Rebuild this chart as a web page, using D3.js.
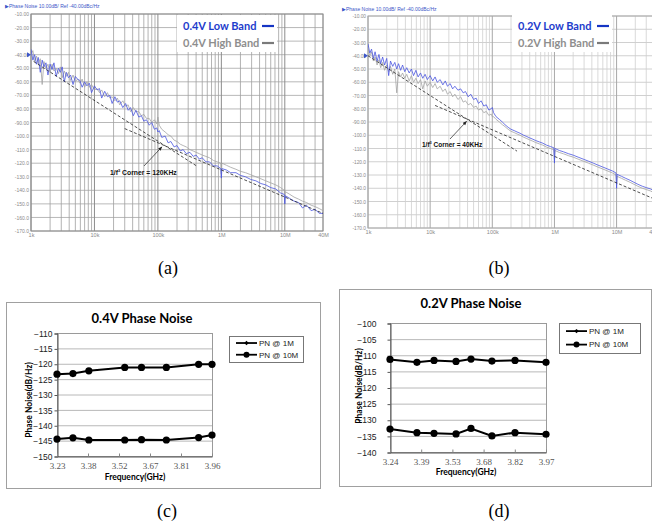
<!DOCTYPE html>
<html>
<head>
<meta charset="utf-8">
<script src="https://cdn.jsdelivr.net/npm/d3@7"></script>
<style>
  body { margin: 0; background: #fff; }
  svg { display: block; }
</style>
</head>
<body>
<div id="chart"></div>
<script>
// ---------- DATA ----------
// offset frequency (kHz) shared by the four analyzer traces
const freqKHz = [
  1, 1.07, 1.14, 1.22, 1.3, 1.4, 1.5, 1.6, 1.72, 1.85,
  2, 2.15, 2.3, 2.5, 2.7, 2.9, 3.1, 3.35, 3.6, 3.9,
  4.2, 4.6, 5, 5.4, 5.9, 6.4, 7, 7.6, 8.3, 9,
  10, 11, 12, 13, 14.5, 16, 17.5, 19, 21, 23,
  25, 28, 31, 34, 37, 41, 45, 50, 55, 60,
  66, 73, 80, 88, 96, 100, 105, 115, 130, 145,
  160, 180, 200, 225, 250, 280, 320, 360, 400, 450,
  500, 570, 650, 750, 860, 980, 1000, 1020, 1200, 1400,
  1700, 2000, 2400, 2900, 3500, 4200, 5000, 6000, 7200, 8600,
  9800, 10000, 10200, 12000, 14000, 16500, 19000, 22000, 26000, 30000,
  35000, 40000
];
// (a) 0.4V, dBc/Hz
const lowBandA = [
  -36, -44, -40, -47, -42, -53, -44, -49, -46, -55,
  -47, -51, -46, -56, -50, -53, -49, -60, -53, -57,
  -55, -62, -56, -58, -59, -64, -60, -63, -61, -68,
  -63, -66, -65, -72, -67, -71, -70, -76, -71, -75,
  -74, -79, -76, -81, -79, -85, -81, -86, -85, -89,
  -88, -92, -90, -95, -94, -97, -96, -101, -100, -105,
  -104, -108, -107, -111, -110, -113, -112, -115, -114, -117,
  -116, -119, -119, -122, -122, -124, -131, -124, -125, -127,
  -127, -129, -130, -132, -133, -135, -136, -138, -139, -142,
  -143, -150, -144, -146, -148, -149, -153, -151, -155, -154,
  -157, -157
];
const highBandA = [
  -40, -37, -45, -41, -47, -43, -62, -45, -50, -47,
  -53, -47, -52, -50, -54, -49, -57, -52, -56, -53,
  -59, -55, -60, -58, -61, -58, -64, -60, -64, -62,
  -66, -65, -68, -66, -71, -68, -72, -71, -74, -72,
  -77, -74, -78, -77, -82, -79, -82, -82, -85, -84,
  -87, -87, -90, -88, -91, -86, -92, -95, -97, -99,
  -100, -103, -104, -106, -107, -108, -110, -111, -112, -113,
  -114, -115, -116, -118, -119, -120, -128, -120, -121.5, -123,
  -124.5, -126, -127, -128.5, -130, -131.5, -133, -134.5, -136, -138,
  -140, -146, -141, -143, -145, -146.5, -148, -149, -151, -152,
  -153.5, -155
];
// (b) 0.2V, dBc/Hz
const lowBandB = [
  -31, -38, -35, -42, -37, -44, -39, -46, -41, -47,
  -42, -55, -44, -48, -45, -50, -46, -51, -47, -52,
  -49, -53, -50, -55, -51, -56, -53, -57, -54, -58,
  -55, -59, -56, -60, -58, -62, -59, -63, -61, -65,
  -63, -66, -65, -68, -67, -71, -69, -73, -72, -76,
  -74, -78, -77, -81, -80, -79, -83, -86, -88, -90,
  -92, -94, -95.5, -96.5, -97.5, -98.5, -100, -101, -102, -103,
  -104, -105, -106, -107.5, -108.5, -109.5, -121, -110, -111.5, -112.5,
  -114, -115, -116.5, -118, -119.5, -121, -122.5, -124, -125.5, -127,
  -128.5, -140, -129.5, -131, -132.5, -134, -135.5, -137, -138.5, -139.5,
  -140.5, -142
];
const highBandB = [
  -35, -40, -37, -44, -41, -47, -43, -49, -45, -51,
  -47, -52, -48, -54, -50, -68, -52, -56, -53, -57,
  -54, -59, -55, -60, -57, -61, -58, -65, -59, -63,
  -60, -64, -61, -65, -63, -67, -65, -69, -67, -71,
  -69, -73, -71, -75, -74, -77, -76, -79, -78, -81,
  -80, -83, -82, -85, -84, -86, -86, -88, -90, -92,
  -93.5, -95.5, -97, -98, -99, -100, -101.5, -102.5, -103.5, -104.5,
  -105.5, -106.5, -107.5, -109, -110, -111, -118, -111.5, -113, -114,
  -115.5, -116.5, -118, -119.5, -121, -122.5, -124, -125.5, -127, -128.5,
  -130, -137, -131, -132.5, -134, -135.5, -137, -138.5, -140, -141,
  -142, -143.5
];
// asymptotes [kHz, dB] and 1/f^3 corners
const flickerA = [[1.1, -45], [400, -121.8]];
const thermalA = [[30, -94.5], [40000, -157]];
const cornerA = [120, -106.5];
const flickerB = [[1, -40], [250, -112]];
const thermalB = [[12, -77.5], [40000, -148]];
const cornerB = [40, -88];

const freqTicks = [1, 10, 100, 1000, 10000, 40000];
const freqTickLabels = ["1k", "10k", "100k", "1M", "10M", "40M"];

// (c) 0.4V phase noise vs carrier
const carrierC = [3.23, 3.305, 3.38, 3.549, 3.628, 3.745, 3.897, 3.96];
const pn1MC = [-123.4, -123.2, -122.3, -121.2, -121.2, -121.2, -120.2, -120.2];
const pn10MC = [-144.5, -144.1, -144.8, -144.8, -144.7, -144.8, -144.0, -143.2];
const ticksC = [3.23, 3.376, 3.522, 3.668, 3.814, 3.96];
const tickLabelsC = ["3.23", "3.38", "3.52", "3.67", "3.81", "3.96"];

// (d) 0.2V phase noise vs carrier
const carrierD = [3.24, 3.366, 3.446, 3.549, 3.619, 3.717, 3.825, 3.97];
const pn1MD = [-111.3, -112.2, -111.6, -111.9, -111.2, -111.8, -111.6, -112.2];
const pn10MD = [-132.9, -134.0, -134.2, -134.4, -132.7, -135.0, -134.0, -134.5];
const ticksD = [3.24, 3.386, 3.532, 3.678, 3.824, 3.97];
const tickLabelsD = ["3.24", "3.39", "3.53", "3.68", "3.82", "3.97"];

const seriesNames = ["PN @ 1M", "PN @ 10M"];

// ---------- SETUP ----------
const svg = d3.select("#chart").append("svg")
    .attr("width", 652)
    .attr("height", 525)
    .style("font-family", "'Liberation Sans', Arial, sans-serif");

const BLUE_TRACE = "#4a55e0";
const GRAY_TRACE = "#a3a3a3";

function dbFormat(v) {
    return v > -100 ? v.toFixed(2) : v.toFixed(1);
}

// ---------- SPECTRUM PANELS (a), (b) ----------
function drawSpectrum(o) {
    const g = svg.append("g");
    const x = d3.scaleLog().domain([1, 40000]).range([o.left, o.right]);
    const y = d3.scaleLinear().domain([-170, -10]).range([o.bottom, o.top]);

    svg.append("clipPath").attr("id", "clip" + o.id)
        .append("rect")
        .attr("x", o.left).attr("y", o.top)
        .attr("width", o.right - o.left).attr("height", o.bottom - o.top);

    // horizontal grid
    g.selectAll("line.hg").data(y.ticks(16)).join("line")
        .attr("x1", o.left).attr("x2", o.right)
        .attr("y1", d => y(d)).attr("y2", d => y(d))
        .attr("stroke", o.hGrid).attr("stroke-width", 0.8);

    // vertical grid (1..9 per decade)
    const isDecade = d => Math.abs(Math.log10(d) - Math.round(Math.log10(d))) < 1e-9;
    g.selectAll("line.vg").data(x.ticks()).join("line")
        .attr("x1", d => x(d)).attr("x2", d => x(d))
        .attr("y1", o.top).attr("y2", o.bottom)
        .attr("stroke", d => isDecade(d) ? o.majorGrid : o.minorGrid)
        .attr("stroke-width", d => isDecade(d) ? 1 : 0.8);

    g.append("rect")
        .attr("x", o.left).attr("y", o.top)
        .attr("width", o.right - o.left).attr("height", o.bottom - o.top)
        .attr("fill", "none").attr("stroke", o.majorGrid).attr("stroke-width", 1);

    // y labels
    g.append("g")
        .attr("transform", `translate(${o.left - 2},0)`)
        .call(d3.axisLeft(y).tickValues(y.ticks(16)).tickFormat(dbFormat).tickSize(0).tickPadding(0))
        .call(a => a.select(".domain").remove())
        .call(a => a.selectAll("text").attr("fill", "#8a8a8a").style("font-size", o.tickSize + "px"));

    // x labels
    g.append("g")
        .attr("transform", `translate(0,${o.bottom + 2})`)
        .call(d3.axisBottom(x).tickValues(freqTicks)
            .tickFormat((d, i) => freqTickLabels[i]).tickSize(0).tickPadding(0))
        .call(a => a.select(".domain").remove())
        .call(a => a.selectAll("text").attr("fill", "#8a8a8a").style("font-size", "5.5px"));

    // header + reference marker
    g.append("text")
        .attr("x", o.headerX).attr("y", o.headerY)
        .attr("fill", "#3c55c8").style("font-size", "5px")
        .text("\u25B6Phase Noise 10.00dB/ Ref -40.00dBc/Hz");
    g.append("path")
        .attr("d", `M${o.left - 4},${y(-40) - 2.5}L${o.left},${y(-40)}L${o.left - 4},${y(-40) + 2.5}Z`)
        .attr("fill", "#3c55c8");

    // traces
    const line = d3.line()
        .x((d, i) => x(freqKHz[i]))
        .y(d => y(d));
    const traces = g.append("g").attr("clip-path", `url(#clip${o.id})`);
    traces.append("path").datum(o.high)
        .attr("d", line).attr("fill", "none")
        .attr("stroke", GRAY_TRACE).attr("stroke-width", 0.8);
    traces.append("path").datum(o.low)
        .attr("d", line).attr("fill", "none")
        .attr("stroke", BLUE_TRACE).attr("stroke-width", 0.8);

    // asymptotes
    const asym = d3.line().x(d => x(d[0])).y(d => y(d[1]));
    [o.flicker, o.thermal].forEach(seg => {
        traces.append("path").datum(seg)
            .attr("d", asym).attr("fill", "none")
            .attr("stroke", "#222").attr("stroke-width", 0.8)
            .attr("stroke-dasharray", "3,2");
    });

    // corner annotation
    const cx = x(o.corner[0]), cy = y(o.corner[1]);
    g.append("line")
        .attr("x1", o.arrowFrom[0]).attr("y1", o.arrowFrom[1])
        .attr("x2", cx - 1).attr("y2", cy + 2)
        .attr("stroke", "#222").attr("stroke-width", 0.7)
        .attr("marker-end", "url(#arrow)");
    const t = g.append("text")
        .attr("x", o.noteX).attr("y", o.noteY)
        .attr("fill", "#111").style("font-size", o.noteSize + "px").style("font-weight", "bold");
    t.append("tspan").text("1/f");
    t.append("tspan").attr("dy", -3).style("font-size", (o.noteSize * 0.6) + "px").text("3");
    t.append("tspan").attr("dy", 3).text(" Corner = " + o.cornerLabel);

    // legend
    const lg = g.append("g");
    lg.append("rect")
        .attr("x", o.legend[0]).attr("y", o.legend[1])
        .attr("width", o.legend[2]).attr("height", o.legend[3])
        .attr("fill", "#fff");
    const items = [
        { label: o.name + " Low Band", text: "#1d3ccc", line: "#1535c4" },
        { label: o.name + " High Band", text: "#8e8e8e", line: "#7a7a7a" }
    ];
    items.forEach((it, i) => {
        const by = o.legend[1] + 15 + i * 17;
        lg.append("text")
            .attr("x", o.legend[0] + 6).attr("y", by)
            .attr("fill", it.text)
            .style("font-family", "Lato, 'Open Sans', sans-serif")
            .style("font-weight", "bold").style("font-size", "11px")
            .text(it.label);
        lg.append("line")
            .attr("x1", o.legend[0] + 85).attr("x2", o.legend[0] + 97)
            .attr("y1", by - 4).attr("y2", by - 4)
            .attr("stroke", it.line).attr("stroke-width", 2.2);
    });
}

svg.append("defs").append("marker")
    .attr("id", "arrow")
    .attr("viewBox", "0 0 10 10")
    .attr("refX", 9).attr("refY", 5)
    .attr("markerWidth", 6).attr("markerHeight", 6)
    .attr("orient", "auto")
    .append("path").attr("d", "M0,1L10,5L0,9Z").attr("fill", "#222");

drawSpectrum({
    id: "a", left: 31, right: 323, top: 14, bottom: 231,
    hGrid: "#a6a6a6", majorGrid: "#8c8c8c", minorGrid: "#a0a0a0",
    tickSize: 5, headerX: 5, headerY: 8,
    low: lowBandA, high: highBandA,
    flicker: flickerA, thermal: thermalA, corner: cornerA,
    arrowFrom: [144, 166], noteX: 110, noteY: 175, noteSize: 6.8, cornerLabel: "120KHz",
    legend: [177, 15, 100, 37], name: "0.4V"
});

drawSpectrum({
    id: "b", left: 368, right: 654, top: 16, bottom: 228,
    hGrid: "#c4c4c4", majorGrid: "#a8a8a8", minorGrid: "#cfcfcf",
    tickSize: 4.8, headerX: 342, headerY: 11,
    low: lowBandB, high: highBandB,
    flicker: flickerB, thermal: thermalB, corner: cornerB,
    arrowFrom: [450, 139], noteX: 422, noteY: 147, noteSize: 6.5, cornerLabel: "40KHz",
    legend: [512, 15, 100, 37], name: "0.2V"
});

// ---------- PHASE NOISE vs CARRIER PANELS (c), (d) ----------
function drawPN(o) {
    const g = svg.append("g");
    g.append("rect")
        .attr("x", o.box[0] + 0.5).attr("y", o.box[1] + 0.5)
        .attr("width", o.box[2] - o.box[0]).attr("height", o.box[3] - o.box[1])
        .attr("fill", "#fff").attr("stroke", "#a0a0a0").attr("stroke-width", 1);

    const x = d3.scaleLinear().domain(o.xDomain).range([o.left, o.right]);
    const y = d3.scaleLinear().domain(o.yDomain).range([o.bottom, o.top]);
    const yTicks = d3.range(o.yDomain[0], o.yDomain[1] + 1, 5);

    g.selectAll("line.hg").data(yTicks).join("line")
        .attr("x1", o.left).attr("x2", o.right)
        .attr("y1", d => y(d) + 0.5).attr("y2", d => y(d) + 0.5)
        .attr("stroke", "#b8b8b8").attr("stroke-width", 1);
    g.append("rect")
        .attr("x", o.left + 0.5).attr("y", o.top + 0.5)
        .attr("width", o.right - o.left).attr("height", o.bottom - o.top)
        .attr("fill", "none").attr("stroke", "#9a9a9a");

    // y axis
    g.append("g")
        .attr("transform", `translate(${o.left + 0.5},0.5)`)
        .call(d3.axisLeft(y).tickValues(yTicks).tickSize(3).tickPadding(o.yPad))
        .call(a => a.select(".domain").attr("stroke", "#555"))
        .call(a => a.selectAll("line").attr("stroke", "#555"))
        .call(a => a.selectAll("text").attr("fill", "#222").style("font-size", "8.5px")
            .style("font-family", "'Liberation Sans', Arial, sans-serif"));

    // x axis
    g.append("g")
        .attr("transform", `translate(0,${o.bottom + 0.5})`)
        .call(d3.axisBottom(x).tickValues(o.ticks).tickFormat((d, i) => o.tickLabels[i])
            .tickSizeInner(-3).tickSizeOuter(0).tickPadding(6))
        .call(a => a.select(".domain").attr("stroke", "#555"))
        .call(a => a.selectAll("line").attr("stroke", "#888"))
        .call(a => a.selectAll("text").attr("fill", "#555").style("font-size", "9px")
            .style("font-family", "'Liberation Serif', 'Times New Roman', serif"));

    // series
    const line = d3.line().x((d, i) => x(o.carrier[i])).y(d => y(d));
    [o.pn1M, o.pn10M].forEach(vals => {
        g.append("path").datum(vals)
            .attr("d", line).attr("fill", "none")
            .attr("stroke", "#000").attr("stroke-width", 2);
        g.selectAll(null).data(vals).join("circle")
            .attr("cx", (d, i) => x(o.carrier[i])).attr("cy", d => y(d))
            .attr("r", 3.6).attr("fill", "#000");
    });

    // titles
    g.append("text")
        .attr("x", o.titleX).attr("y", o.titleY)
        .attr("text-anchor", "middle")
        .style("font-family", "Lato, 'Open Sans', sans-serif")
        .style("font-weight", "bold").style("font-size", "13px")
        .text(o.title);
    g.append("text")
        .attr("transform", `translate(${o.yTitle[0]},${o.yTitle[1]}) rotate(-90)`)
        .attr("text-anchor", "middle").attr("dy", "0.35em")
        .style("font-family", "Lato, 'Open Sans', sans-serif")
        .style("font-weight", "bold").style("font-size", "8.5px")
        .text("Phase Noise(dB/Hz)");
    g.append("text")
        .attr("x", o.xTitle[0]).attr("y", o.xTitle[1])
        .attr("text-anchor", "middle")
        .style("font-family", "Lato, 'Open Sans', sans-serif")
        .style("font-weight", "bold").style("font-size", "8.5px")
        .text("Frequency(GHz)");

    // legend
    const L = o.legend;
    g.append("rect")
        .attr("x", L[0] + 0.5).attr("y", L[1] + 0.5).attr("width", L[2]).attr("height", L[3])
        .attr("fill", "#fff").attr("stroke", "#777");
    seriesNames.forEach((name, i) => {
        const ly = L[1] + L[3] * (i === 0 ? 0.27 : 0.72);
        g.append("line")
            .attr("x1", L[0] + 7).attr("x2", L[0] + 28)
            .attr("y1", ly).attr("y2", ly)
            .attr("stroke", "#000").attr("stroke-width", 1.8);
        if (i === 0) {
            g.append("path")
                .attr("d", `M${L[0] + 17.5},${ly - 2.2}L${L[0] + 19.7},${ly}L${L[0] + 17.5},${ly + 2.2}L${L[0] + 15.3},${ly}Z`)
                .attr("fill", "#000");
        } else {
            g.append("circle").attr("cx", L[0] + 17.5).attr("cy", ly).attr("r", 3).attr("fill", "#000");
        }
        g.append("text")
            .attr("x", L[0] + 30).attr("y", ly).attr("dy", "0.35em")
            .style("font-size", "8px").attr("fill", "#222")
            .text(name);
    });
}

drawPN({
    box: [6, 302, 320, 488],
    left: 57, right: 212, top: 333, bottom: 456,
    xDomain: [3.23, 3.96], yDomain: [-150, -110],
    ticks: ticksC, tickLabels: tickLabelsC,
    carrier: carrierC, pn1M: pn1MC, pn10M: pn10MC,
    title: "0.4V Phase Noise", titleX: 142, titleY: 323,
    yTitle: [29, 400], xTitle: [135, 480], yPad: 2,
    legend: [229, 336, 74, 26]
});

drawPN({
    box: [339, 289, 651, 486],
    left: 390, right: 546, top: 323, bottom: 452,
    xDomain: [3.24, 3.97], yDomain: [-140, -100],
    ticks: ticksD, tickLabels: tickLabelsD,
    carrier: carrierD, pn1M: pn1MD, pn10M: pn10MD,
    title: "0.2V Phase Noise", titleX: 471, titleY: 308,
    yTitle: [359, 386], xTitle: [466, 475], yPad: 11,
    legend: [559, 323, 81, 30]
});

// ---------- CAPTIONS ----------
[["(a)", 168, 274], ["(b)", 499, 274], ["(c)", 167, 517], ["(d)", 499, 517]].forEach(c => {
    svg.append("text")
        .attr("x", c[1]).attr("y", c[2])
        .attr("text-anchor", "middle")
        .style("font-family", "'Liberation Serif', 'Times New Roman', serif")
        .style("font-size", "18px")
        .text(c[0]);
});
</script>
</body>
</html>
